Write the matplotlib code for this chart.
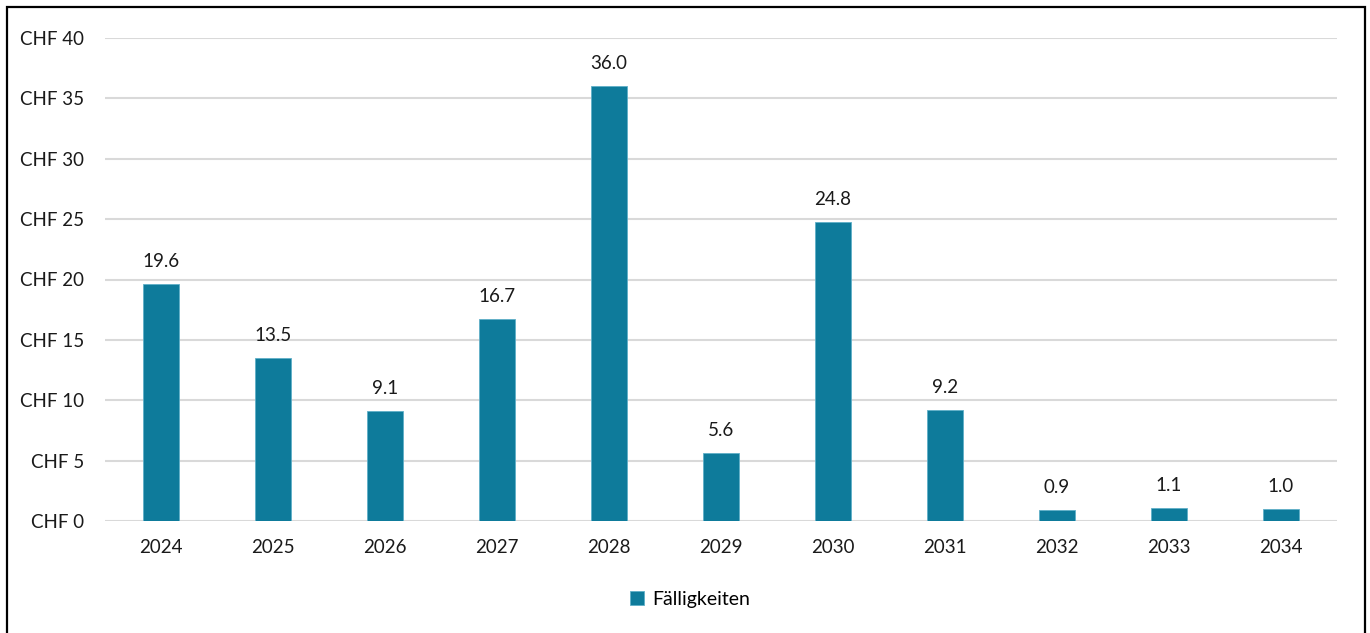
import matplotlib.pyplot as plt
from matplotlib.patches import Rectangle

years = ['2024', '2025', '2026', '2027', '2028', '2029', '2030', '2031', '2032', '2033', '2034']
faelligkeiten = [19.6, 13.5, 9.1, 16.7, 36.0, 5.6, 24.8, 9.2, 0.9, 1.1, 1.0]
yticks = [0, 5, 10, 15, 20, 25, 30, 35, 40]

plt.rcParams['font.family'] = ['Lato', 'DejaVu Sans']
bar_color = '#0E7B9B'

fig = plt.figure(figsize=(13.7, 6.33), dpi=100)
ax = fig.add_axes([105/1370, 1-521/633, (1337-105)/1370, (521-38)/633])

x = range(len(years))
bars = ax.bar(x, faelligkeiten, width=0.32, color=bar_color, edgecolor='#5FAFC8',
              linewidth=0.6, label='Fälligkeiten', zorder=3)
for xi, v in zip(x, faelligkeiten):
    ax.annotate(f'{v:.1f}', (xi, v), xytext=(0, 10), textcoords='offset points',
                ha='center', va='bottom', fontsize=13.5, color='#1a1a1a')

ax.set_xlim(-0.5, len(years)-0.5)
ax.set_ylim(0, 40)
ax.set_yticks(yticks)
ax.set_yticklabels([f'CHF {t}' for t in yticks])
ax.set_xticks(list(x))
ax.set_xticklabels(years)
ax.tick_params(axis='y', length=0, pad=15, labelsize=13.5, labelcolor='#1a1a1a')
ax.tick_params(axis='x', length=0, pad=13, labelsize=13.5, labelcolor='#1a1a1a')
ax.grid(axis='y', color='#D9D9D9', linewidth=1.5, zorder=0)
for s in ax.spines.values():
    s.set_visible(False)

fig.legend(handles=[bars], labels=['Fälligkeiten'], loc='center', bbox_to_anchor=(690/1370, 1-599/633),
           frameon=False, fontsize=14, handlelength=0.7, handleheight=0.7, handletextpad=0.4)

# outer frame
fig.patches.append(Rectangle((6.5/1370, -0.05), (1364.5-6.5)/1370, 1.05-7.5/633,
                             transform=fig.transFigure, fill=False, edgecolor='black', linewidth=1.6))

fig.savefig('out.png', dpi=100)
